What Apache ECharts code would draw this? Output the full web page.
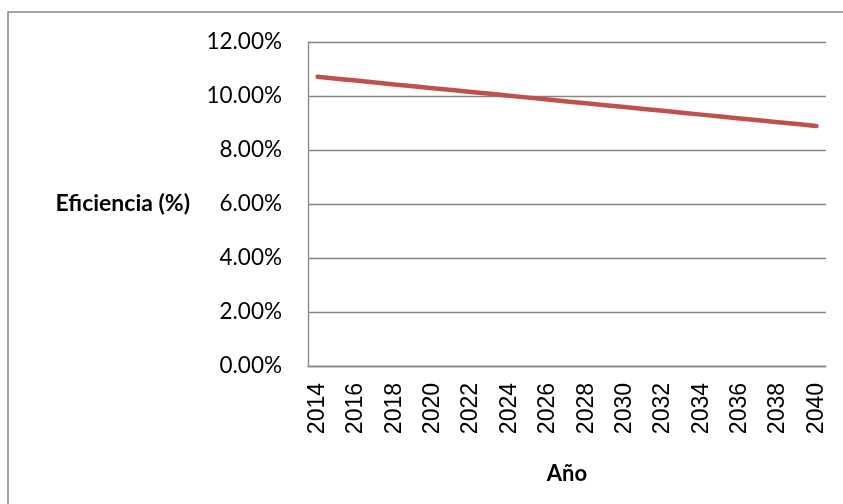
<!DOCTYPE html>
<html>
<head>
<meta charset="utf-8">
<script src="https://cdn.jsdelivr.net/npm/echarts@6/dist/echarts.min.js"></script>
<style>
  html, body { margin: 0; padding: 0; background: #fff; }
  #chart { width: 843px; height: 504px; }
</style>
</head>
<body>
<div id="chart"></div>
<script>
// años y eficiencia (%)
var years = ['2014','2015','2016','2017','2018','2019','2020','2021','2022','2023','2024','2025','2026',
             '2027','2028','2029','2030','2031','2032','2033','2034','2035','2036','2037','2038','2039','2040'];
var eficiencia = [10.71, 10.64, 10.57, 10.50, 10.43, 10.36, 10.29, 10.22, 10.15, 10.08, 10.01, 9.94, 9.87,
                  9.80, 9.73, 9.66, 9.59, 9.52, 9.45, 9.38, 9.31, 9.24, 9.17, 9.10, 9.03, 8.96, 8.89];
var yTicks = [0, 2, 4, 6, 8, 10, 12];

var myChart = echarts.init(document.getElementById('chart'));
var option = {
    animation: false,
    grid: { left: 308, right: 17, top: 42, bottom: 138 },
    graphic: [
        {
            type: 'rect',
            shape: { x: 8, y: 12, width: 900, height: 600 },
            style: { fill: 'none', stroke: '#868686', lineWidth: 1.5 },
            silent: true
        },
        {
            type: 'text',
            x: 190,
            y: 204,
            style: {
                text: 'Eficiencia (%)',
                fontFamily: 'Lato',
                fontWeight: 'bold',
                fontSize: 23,
                fill: '#000',
                align: 'right',
                verticalAlign: 'middle'
            }
        }
    ],
    xAxis: {
        type: 'category',
        data: years,
        boundaryGap: true,
        name: 'Año',
        nameLocation: 'middle',
        nameGap: 97,
        nameTextStyle: { fontFamily: 'Lato', fontWeight: 'bold', fontSize: 22, color: '#000' },
        axisLine: { lineStyle: { color: '#868686', width: 1.3 } },
        axisTick: { show: false },
        axisLabel: {
            interval: 1,
            rotate: 90,
            margin: 17,
            color: '#000',
            fontFamily: 'Liberation Sans',
            fontSize: 23
        }
    },
    yAxis: {
        type: 'value',
        min: yTicks[0],
        max: yTicks[yTicks.length - 1],
        interval: 2,
        axisLine: { show: true, lineStyle: { color: '#868686', width: 1.3 } },
        axisTick: { show: false },
        splitLine: { lineStyle: { color: '#868686', width: 1.3 } },
        axisLabel: {
            margin: 26,
            color: '#000',
            fontFamily: 'Lato',
            fontSize: 22.5,
            formatter: function (v) { return v.toFixed(2) + '%'; }
        }
    },
    series: [
        {
            type: 'line',
            data: eficiencia,
            symbol: 'none',
            lineStyle: { color: '#C0504D', width: 4.5, cap: 'round' }
        }
    ]
};
myChart.setOption(option);
</script>
</body>
</html>
